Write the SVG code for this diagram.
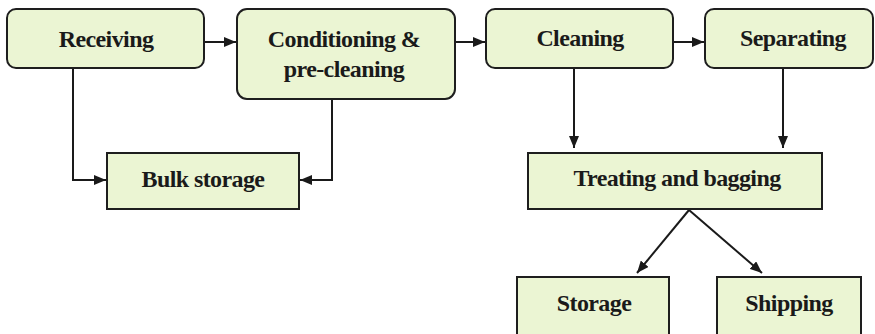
<svg xmlns="http://www.w3.org/2000/svg" width="875" height="334" viewBox="0 0 875 334">
<style>
.box{fill:#ebf5d3;stroke:#1e1e1e;stroke-width:2}
.lbl{font-family:"Liberation Serif","Times New Roman",serif;font-weight:bold;font-size:24px;fill:#1a1a1a;text-anchor:middle;letter-spacing:-0.6px}
.ln{fill:none;stroke:#1a1a1a;stroke-width:2}
</style>
<defs>
<marker id="ah" viewBox="0 0 12 10" refX="12" refY="5" markerWidth="12" markerHeight="10" markerUnits="userSpaceOnUse" orient="auto">
<path d="M0,0 L12,5 L0,10 z" fill="#1a1a1a"/>
</marker>
</defs>
<rect width="875" height="334" fill="#fff"/>
<g id="connectors">
<line class="ln" x1="204" y1="42" x2="236" y2="42" marker-end="url(#ah)"/>
<line class="ln" x1="455" y1="42" x2="485" y2="42" marker-end="url(#ah)"/>
<line class="ln" x1="673" y1="42" x2="704" y2="42" marker-end="url(#ah)"/>
<polyline class="ln" points="73,68 73,180 106,180" marker-end="url(#ah)"/>
<polyline class="ln" points="332,99 332,180 300,180" marker-end="url(#ah)"/>
<line class="ln" x1="574" y1="68" x2="574" y2="148" marker-end="url(#ah)"/>
<line class="ln" x1="783" y1="68" x2="783" y2="148" marker-end="url(#ah)"/>
<line class="ln" x1="689" y1="210" x2="637" y2="273" marker-end="url(#ah)"/>
<line class="ln" x1="689" y1="210" x2="762" y2="273" marker-end="url(#ah)"/>
</g>
<g id="receiving"><rect class="box" x="7" y="9" width="197" height="59" rx="9"/><text class="lbl" x="106" y="47">Receiving</text></g>
<g id="conditioning"><rect class="box" x="237" y="9" width="218" height="90" rx="10"/><text class="lbl" x="344" y="47">Conditioning &amp;</text><text class="lbl" x="344" y="77">pre-cleaning</text></g>
<g id="cleaning"><rect class="box" x="486" y="9" width="187" height="59" rx="9"/><text class="lbl" x="580" y="46">Cleaning</text></g>
<g id="separating"><rect class="box" x="705" y="9" width="168" height="59" rx="9"/><text class="lbl" x="793" y="46">Separating</text></g>
<g id="bulk-storage"><rect class="box" x="107" y="153" width="192" height="56"/><text class="lbl" x="203" y="187">Bulk storage</text></g>
<g id="treating"><rect class="box" x="528" y="153" width="294" height="56"/><text class="lbl" x="677" y="186">Treating and bagging</text></g>
<g id="storage"><rect class="box" x="517" y="277" width="152" height="62"/><text class="lbl" x="594" y="311">Storage</text></g>
<g id="shipping"><rect class="box" x="717" y="277" width="144" height="62"/><text class="lbl" x="789" y="311">Shipping</text></g>
</svg>
